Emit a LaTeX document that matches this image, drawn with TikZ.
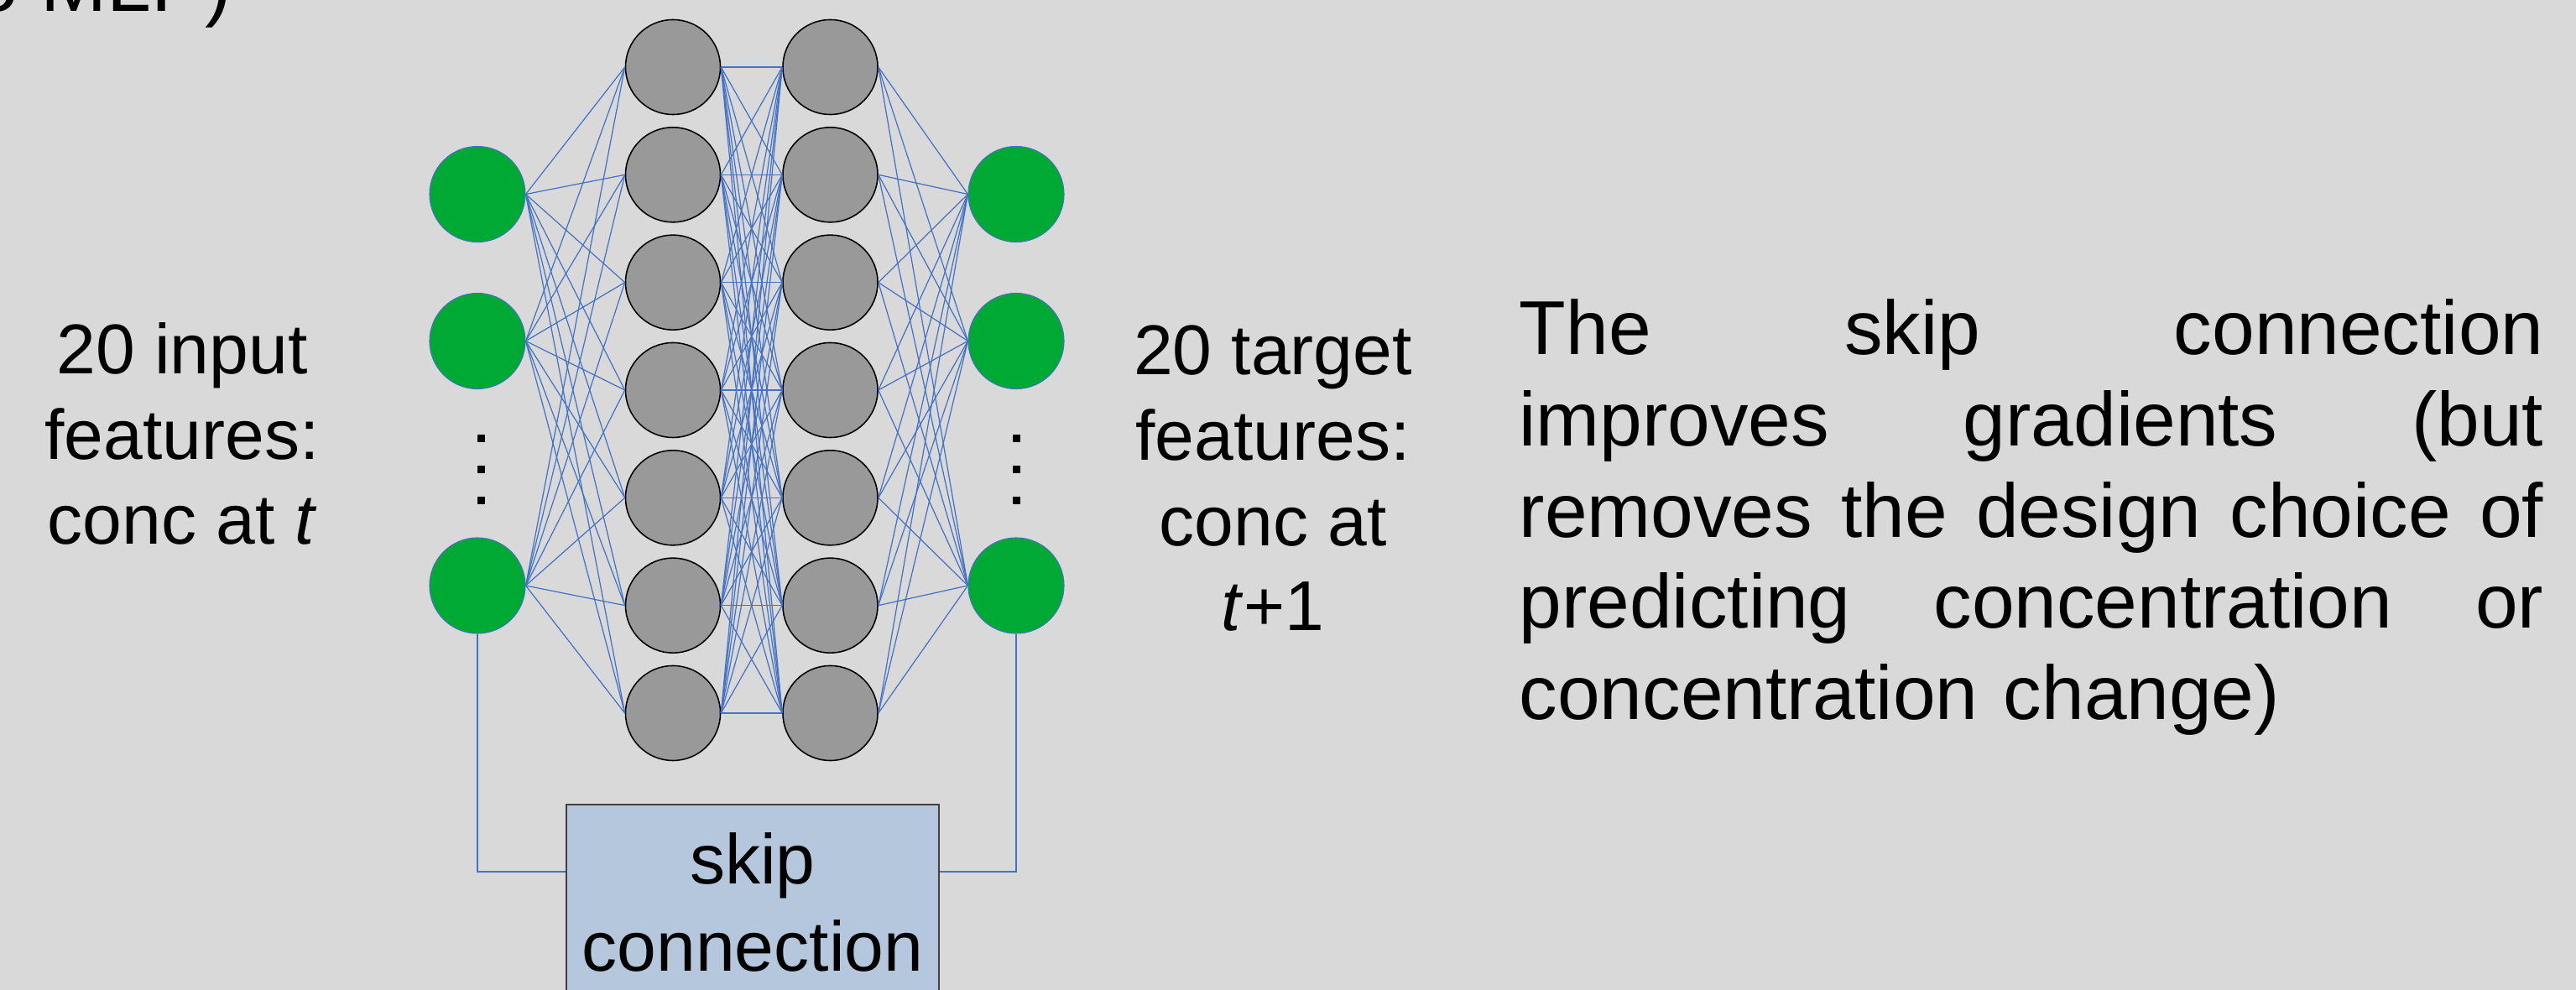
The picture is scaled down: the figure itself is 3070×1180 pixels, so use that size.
\documentclass[tikz,border=0pt]{standalone}
\usepackage{fontspec}
\setmainfont{Liberation Sans}
\definecolor{bg}{HTML}{D9D9D9}
\definecolor{grn}{HTML}{00A933}
\definecolor{edgeblue}{HTML}{4472C4}
\definecolor{hid}{HTML}{999999}
\definecolor{boxfill}{HTML}{B4C7DC}
\begin{document}
\begin{tikzpicture}[x=0.01cm, y=-0.01cm,
  io/.style={circle, fill=grn, draw=edgeblue, line width=0.3pt, minimum size=1.14cm, inner sep=0pt},
  hidden/.style={circle, fill=hid, draw=black, line width=0.45pt, minimum size=1.13cm, inner sep=0pt},
  conn/.style={draw=edgeblue, line width=0.35pt},
  dotn/.style={rectangle, fill=black, minimum size=0.09cm, inner sep=0pt},
  lbl/.style={font=\fontsize{23.9}{29.0}\selectfont, align=center, inner sep=0pt, anchor=base},
  skipbox/.style={draw=black!75, line width=0.6pt, fill=boxfill, minimum width=4.433cm,
    inner xsep=0pt, inner ysep=0.34cm, align=center, font=\fontsize{23.9}{29.3}\selectfont, anchor=north},
  para/.style={anchor=base west, align=left, text width=12.2cm, inner sep=0pt,
    font=\fontsize{25.9}{30.87}\selectfont}]
\useasboundingbox (0,0) rectangle (3070,1180);
\clip (0,0) rectangle (3070,1180);
\fill[bg] (0,0) rectangle (3070,1180);

% cut-off title
\node[anchor=base west, inner sep=0pt, font=\fontsize{27}{32}\selectfont] (title) at (-31,13.3) {o MLP)};

% input and output nodes
\foreach \i/\yy in {1/231.5, 2/406.5, 3/698} {
  \node[io] (in\i) at (569,\yy) {};
  \node[io] (out\i) at (1211,\yy) {};
}
% hidden layers
\foreach \i in {1,...,7} {
  \node[hidden] (a\i) at (802,{80+(\i-1)*128.33}) {};
  \node[hidden] (b\i) at (989.5,{80+(\i-1)*128.33}) {};
}
% vertical ellipses
\foreach \i/\yy in {1/523, 2/560, 3/597} {
  \node[dotn] (dl\i) at (573,\yy) {};
  \node[dotn] (dr\i) at (1211,\yy) {};
}

% connections
\foreach \i in {1,2,3} \foreach \j in {1,...,7} \draw[conn] (in\i.east) -- (a\j.west);
\foreach \i in {1,...,7} \foreach \j in {1,...,7} \draw[conn] (a\i.east) -- (b\j.west);
\foreach \i in {1,...,7} \foreach \j in {1,2,3} \draw[conn] (b\i.east) -- (out\j.west);

% skip connection
\node[skipbox] (skip) at (897,958) {skip\\connection};
\draw[conn] (in3.south) |- ([yshift=-0.81cm]skip.north west);
\draw[conn] (out3.south) |- ([yshift=-0.81cm]skip.north east);

% labels (base anchor = last line)
\node[lbl] (inlbl) at (217,649) {20 input\\features:\\conc at \textit{t}};
\node[lbl] (outlbl) at (1517,752) {20 target\\features:\\conc at\\\textit{t}+1};

% paragraph
\node[para] (note) at (1810,423) {The\hfill skip\hfill connection\\
improves\hfill gradients\hfill (but\\
removes\hfill the\hfill design\hfill choice\hfill of\\
predicting\hfill concentration\hfill or\\
concentration change)};
\end{tikzpicture}
\end{document}
